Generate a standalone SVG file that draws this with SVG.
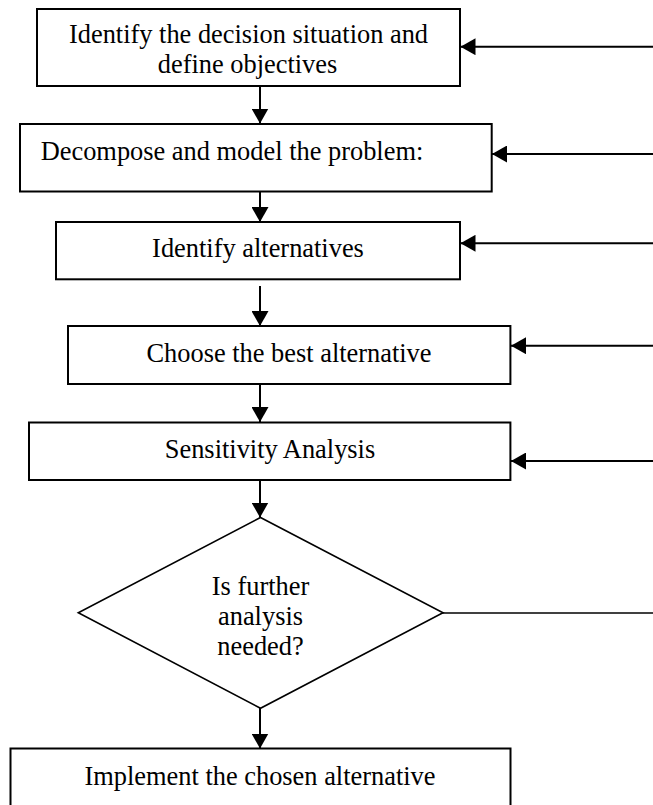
<svg xmlns="http://www.w3.org/2000/svg" width="653" height="805" viewBox="0 0 653 805">
  <style>
    .box { fill: #ffffff; stroke: #000000; stroke-width: 2; }
    .dia { fill: #ffffff; stroke: #000000; stroke-width: 1.6; }
    .lbl { font-family: "Liberation Serif", "Times New Roman", serif; font-size: 26.4px; fill: #000000; }
    .mid { text-anchor: middle; }
    .conn { fill: none; stroke: #000000; stroke-width: 2; }
    .thin { fill: none; stroke: #000000; stroke-width: 1.6; }
  </style>
  <defs>
    <marker id="arrow" markerUnits="userSpaceOnUse" markerWidth="16" markerHeight="17" refX="15" refY="8.5" orient="auto" viewBox="0 0 16 17">
      <path d="M0,0 L15,8.5 L0,17 z" fill="#000000"/>
    </marker>
  </defs>
  <rect width="653" height="805" fill="#ffffff"/>

  <g id="connectors">
    <line class="conn" x1="260" y1="86" x2="260" y2="123.5" marker-end="url(#arrow)"/>
    <line class="conn" x1="260" y1="191.5" x2="260" y2="222" marker-end="url(#arrow)"/>
    <line class="conn" x1="260" y1="286" x2="260" y2="326" marker-end="url(#arrow)"/>
    <line class="conn" x1="260" y1="384" x2="260" y2="422" marker-end="url(#arrow)"/>
    <line class="conn" x1="260" y1="480" x2="260" y2="517.5" marker-end="url(#arrow)"/>
    <line class="conn" x1="260" y1="708" x2="260" y2="748.5" marker-end="url(#arrow)"/>

    <line class="conn" x1="653" y1="46.7" x2="460.5" y2="46.7" marker-end="url(#arrow)"/>
    <line class="conn" x1="653" y1="154" x2="492" y2="154" marker-end="url(#arrow)"/>
    <line class="conn" x1="653" y1="243.3" x2="460.5" y2="243.3" marker-end="url(#arrow)"/>
    <line class="conn" x1="653" y1="345.7" x2="511" y2="345.7" marker-end="url(#arrow)"/>
    <line class="conn" x1="653" y1="461" x2="511" y2="461" marker-end="url(#arrow)"/>

    <line class="thin" x1="436" y1="613" x2="653" y2="613"/>
  </g>

  <g id="node-identify-situation">
    <rect class="box" x="37" y="9" width="423" height="77"/>
    <text class="lbl mid" x="248.5" y="43">Identify the decision situation and</text>
    <text class="lbl mid" x="247.5" y="73">define objectives</text>
  </g>

  <g id="node-decompose">
    <rect class="box" x="20" y="124" width="471.7" height="67.5"/>
    <text class="lbl" x="40.7" y="160">Decompose and model the problem:</text>
  </g>

  <g id="node-identify-alternatives">
    <rect class="box" x="56" y="222" width="404" height="57.3"/>
    <text class="lbl mid" x="258" y="256.7">Identify alternatives</text>
  </g>

  <g id="node-choose">
    <rect class="box" x="68" y="326" width="442.4" height="58"/>
    <text class="lbl mid" x="289" y="361.7">Choose the best alternative</text>
  </g>

  <g id="node-sensitivity">
    <rect class="box" x="29" y="422.5" width="481.4" height="57.5"/>
    <text class="lbl mid" x="270" y="457.7">Sensitivity Analysis</text>
  </g>

  <g id="node-decision">
    <polygon class="dia" points="260.5,517.5 443,612.8 260.5,708.3 78.3,612.8"/>
    <text class="lbl mid" x="260.5" y="595">Is further</text>
    <text class="lbl mid" x="260.5" y="625">analysis</text>
    <text class="lbl mid" x="260.5" y="655">needed?</text>
  </g>

  <g id="node-implement">
    <rect class="box" x="10.5" y="748.5" width="500" height="70"/>
    <text class="lbl mid" x="260" y="785">Implement the chosen alternative</text>
  </g>
</svg>
